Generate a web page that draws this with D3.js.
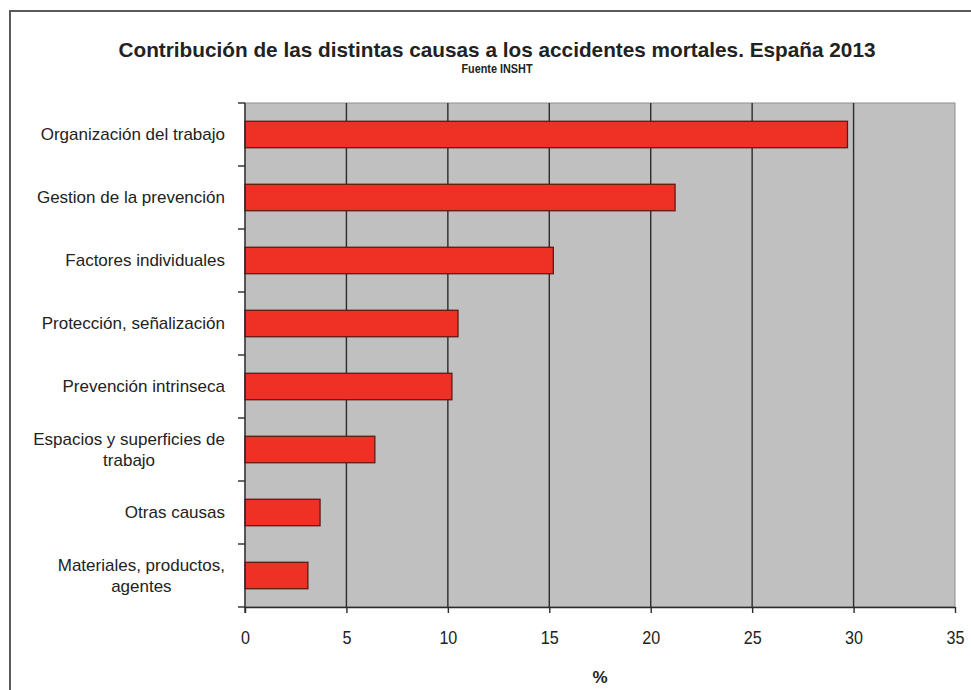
<!DOCTYPE html>
<html>
<head>
<meta charset="utf-8">
<script src="https://cdn.jsdelivr.net/npm/d3@7"></script>
<style>
  html, body { margin: 0; padding: 0; background: #fff; }
  svg { display: block; }
  text { font-family: "Liberation Sans", Arial, sans-serif; fill: #222; }
</style>
</head>
<body>
<svg id="chart" width="971" height="690"></svg>
<script>
// ---- data ----
const categories = [
  ["Organización del trabajo"],
  ["Gestion de la prevención"],
  ["Factores individuales"],
  ["Protección, señalización"],
  ["Prevención intrinseca"],
  ["Espacios y superficies de", "trabajo"],
  ["Otras causas"],
  ["Materiales, productos,", "agentes"]
];
const values = [29.7, 21.2, 15.2, 10.5, 10.2, 6.4, 3.7, 3.1];
const xTicks = [0, 5, 10, 15, 20, 25, 30, 35];
const titleText = "Contribución de las distintas causas a los accidentes mortales. España 2013";
const subtitleText = "Fuente INSHT";
const xAxisTitle = "%";

// ---- layout ----
const W = 971, H = 690;
const plot = { left: 245, right: 955, top: 103, bottom: 607 };
const svg = d3.select("#chart");

// frame
svg.append("path")
  .attr("d", `M10,${H} L10,11 L${W},11`)
  .attr("fill", "none").attr("stroke", "#5a5a5a").attr("stroke-width", 2);

const x = d3.scaleLinear().domain([0, 35]).range([plot.left, plot.right]);
const keys = categories.map(c => c.join(" "));
const y = d3.scaleBand().domain(keys).range([plot.top, plot.bottom])
  .paddingInner(0.58).paddingOuter(0.29);

// plot background
svg.append("rect")
  .attr("x", x(0)).attr("y", plot.top)
  .attr("width", x(35) - x(0)).attr("height", plot.bottom - plot.top)
  .attr("fill", "#c0c0c0").attr("stroke", "#8f8f8f").attr("stroke-width", 1);

// gridlines
svg.append("g").selectAll("line")
  .data(xTicks.filter(t => t > 0 && t < 35))
  .join("line")
  .attr("x1", d => x(d)).attr("x2", d => x(d))
  .attr("y1", plot.top).attr("y2", plot.bottom)
  .attr("stroke", "#2b2b2b").attr("stroke-width", 1.4);

// bars
svg.append("g").selectAll("rect")
  .data(values)
  .join("rect")
  .attr("x", x(0))
  .attr("y", (d, i) => y(keys[i]))
  .attr("width", d => x(d) - x(0))
  .attr("height", y.bandwidth())
  .attr("fill", "#ee3124")
  .attr("stroke", "#5e1a12")
  .attr("stroke-width", 1.3);

// x axis
const xAxis = svg.append("g")
  .attr("transform", `translate(0,${plot.bottom})`)
  .call(d3.axisBottom(x).tickValues(xTicks).tickSize(6).tickSizeOuter(0).tickPadding(18));
xAxis.select(".domain").attr("stroke", "#2b2b2b").attr("stroke-width", 1.4);
xAxis.selectAll(".tick line").attr("stroke", "#2b2b2b").attr("stroke-width", 1.4);
xAxis.selectAll(".tick text")
  .style("font-family", "'Liberation Sans', Arial, sans-serif")
  .style("font-size", "19px").attr("fill", "#222")
  .attr("transform", "scale(0.85,1)");

// y axis line + ticks at band boundaries
const step = y.step();
const boundaries = keys.map(k => y(k) - y.paddingInner() * step / 2)
  .concat([y(keys[keys.length - 1]) + y.bandwidth() + y.paddingInner() * step / 2]);
svg.append("line")
  .attr("x1", x(0)).attr("x2", x(0))
  .attr("y1", plot.top).attr("y2", plot.bottom + 6)
  .attr("stroke", "#2b2b2b").attr("stroke-width", 1.4);
svg.append("g").selectAll("line")
  .data(boundaries)
  .join("line")
  .attr("x1", x(0) - 7).attr("x2", x(0))
  .attr("y1", d => d).attr("y2", d => d)
  .attr("stroke", "#2b2b2b").attr("stroke-width", 1.4);

// category labels
const labelRight = x(0) - 20;
const lineH = 21;
const lg = svg.append("g");
categories.forEach((lines, i) => {
  const cy = y(keys[i]) + y.bandwidth() / 2;
  const t = lg.append("text")
    .attr("font-size", 17)
    .attr("text-anchor", "middle");
  const tspans = lines.map((ln, j) => t.append("tspan")
    .attr("y", cy + (j - (lines.length - 1) / 2) * lineH)
    .attr("dy", "0.35em")
    .text(ln));
  const widths = tspans.map(s => s.node().getComputedTextLength());
  const maxW = d3.max(widths);
  tspans.forEach(s => s.attr("x", labelRight - maxW / 2));
});

// titles
svg.append("text")
  .attr("x", 497).attr("y", 57)
  .attr("text-anchor", "middle")
  .attr("font-size", 21).attr("font-weight", "bold")
  .attr("textLength", 757).attr("lengthAdjust", "spacingAndGlyphs")
  .text(titleText);
svg.append("text")
  .attr("x", 497).attr("y", 73)
  .attr("text-anchor", "middle")
  .attr("font-size", 12).attr("font-weight", "bold")
  .attr("textLength", 71).attr("lengthAdjust", "spacingAndGlyphs")
  .text(subtitleText);
svg.append("text")
  .attr("x", (plot.left + plot.right) / 2).attr("y", 683)
  .attr("text-anchor", "middle")
  .attr("font-size", 17).attr("font-weight", "bold")
  .text(xAxisTitle);
</script>
</body>
</html>
